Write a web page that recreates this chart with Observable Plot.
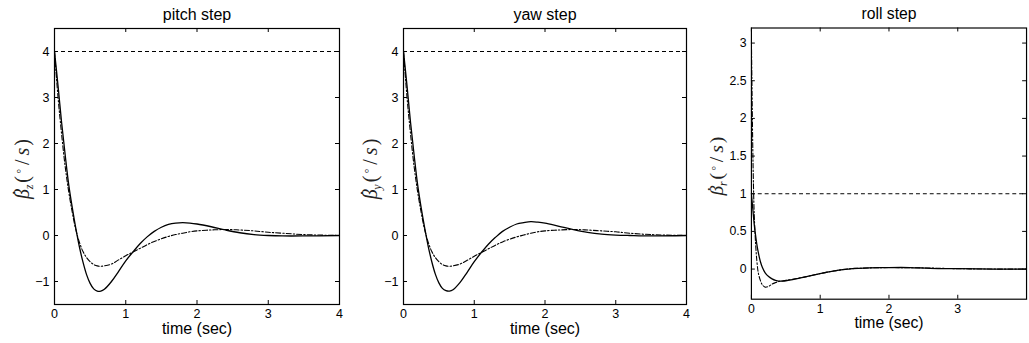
<!DOCTYPE html>
<html><head><meta charset="utf-8">
<script src="https://cdn.jsdelivr.net/npm/d3@7"></script>
<script src="https://cdn.jsdelivr.net/npm/@observablehq/plot@0.6"></script>
<style>
html,body{margin:0;padding:0;background:#fff;overflow:hidden;width:1029px;height:343px;}
#wrap{position:relative;width:1029px;height:343px;overflow:hidden;}
.panel{position:absolute;top:0;}
</style></head><body><div id="wrap"></div>
<script>
// ---- text ----
const titles = ["pitch step", "yaw step", "roll step"];
const subs = ["z", "y", "r"];
const xLabel = "time (sec)";

// ---- ticks ----
const xTicksFull = [0, 1, 2, 3, 4];
const xTicksRoll = [0, 1, 2, 3];
const yTicksPY = [-1, 0, 1, 2, 3, 4];
const yTicksRoll = [0, 0.5, 1, 1.5, 2, 2.5, 3];

// ---- commands (dashed) ----
const commandPitch = 4;
const commandYaw = 4;
const commandRoll = 1;

// ---- pitch / yaw time grid ----
const tPY = [0,0.05,0.1,0.15,0.2,0.25,0.3,0.35,0.4,0.45,0.5,0.55,0.6,0.65,0.7,0.8,0.9,1.0,1.1,1.2,1.3,1.4,1.5,1.6,1.7,1.8,1.9,2.0,2.2,2.4,2.6,2.8,3.0,3.2,3.5,4.0];

const pitchActual = [4.0,3.25,2.45,1.75,1.1,0.6,0.15,-0.25,-0.58,-0.85,-1.04,-1.16,-1.21,-1.21,-1.17,-1.0,-0.78,-0.55,-0.36,-0.18,-0.03,0.09,0.18,0.24,0.27,0.28,0.27,0.25,0.19,0.12,0.06,0.02,0.0,-0.01,-0.01,0.0];
const pitchModel  = [4.0,3.0,2.2,1.5,0.95,0.5,0.12,-0.15,-0.35,-0.48,-0.57,-0.63,-0.66,-0.67,-0.66,-0.62,-0.53,-0.44,-0.36,-0.28,-0.2,-0.13,-0.07,-0.02,0.02,0.05,0.08,0.1,0.12,0.13,0.12,0.1,0.07,0.05,0.02,0.0];

const yawActual = [4.0,3.25,2.45,1.75,1.1,0.6,0.16,-0.24,-0.57,-0.84,-1.03,-1.15,-1.2,-1.21,-1.18,-1.02,-0.8,-0.57,-0.37,-0.19,-0.04,0.09,0.18,0.25,0.28,0.3,0.29,0.27,0.2,0.13,0.07,0.03,0.01,0.0,-0.01,0.0];
const yawModel  = [4.0,3.0,2.2,1.5,0.95,0.5,0.12,-0.15,-0.35,-0.48,-0.57,-0.63,-0.66,-0.67,-0.66,-0.62,-0.54,-0.45,-0.37,-0.29,-0.21,-0.14,-0.08,-0.03,0.01,0.05,0.08,0.1,0.12,0.13,0.12,0.1,0.08,0.05,0.02,0.0];

// ---- roll ----
const tRollActual = [0,0.02,0.04,0.06,0.08,0.1,0.13,0.16,0.2,0.25,0.3,0.35,0.4,0.45,0.5,0.6,0.7,0.8,0.9,1.0,1.1,1.2,1.3,1.4,1.5,1.7,2.0,2.3,2.6,3.0,3.5,4.0];
const rollActual  = [1.0,0.8,0.6,0.45,0.32,0.22,0.1,0.02,-0.05,-0.1,-0.13,-0.15,-0.16,-0.16,-0.155,-0.14,-0.12,-0.1,-0.08,-0.06,-0.04,-0.025,-0.01,0.0,0.01,0.015,0.02,0.02,0.01,0.005,0.0,0.0];
const tRollModel = [0,0.01,0.02,0.03,0.04,0.06,0.08,0.1,0.13,0.16,0.2,0.25,0.3,0.35,0.4,0.5,0.6,0.8,1.0,1.2,1.4,1.7,2.0,2.5,3.0,3.5,4.0];
const rollModel  = [3.05,2.3,1.6,1.1,0.75,0.35,0.1,-0.05,-0.15,-0.21,-0.24,-0.23,-0.2,-0.18,-0.165,-0.15,-0.135,-0.1,-0.06,-0.025,0.0,0.015,0.02,0.015,0.005,0.0,0.0];

const fmt = d => d < 0 ? "\u2212" + Math.abs(d) : String(d);

function panel(o) {
  const H = 343, mT = 28, mB = 39;
  const innerH = H - mT - mB, innerW = o.width - o.mL - o.mR;
  const actual = o.tA.map((t, i) => ({t, v: o.a[i]}));
  const model = o.tM.map((t, i) => ({t, v: o.m[i]}));
  const tl = 4;
  const svg = Plot.plot({
    width: o.width, height: H,
    marginTop: mT, marginBottom: mB, marginLeft: o.mL, marginRight: o.mR,
    style: {fontFamily: "'Liberation Sans', Arial, sans-serif", fontSize: "12px", background: "white", color: "black", overflow: "visible"},
    x: {domain: [0, 4], label: null},
    y: {domain: o.yDomain, label: null},
    marks: [
      Plot.ruleY([o.cmd], {stroke: "black", strokeWidth: 1, strokeDasharray: "4,3"}),
      Plot.line(model, {x: "t", y: "v", stroke: "black", strokeWidth: 1.1, strokeDasharray: "5,2,1.5,2", curve: "catmull-rom", clip: true}),
      Plot.line(actual, {x: "t", y: "v", stroke: "black", strokeWidth: 1.3, curve: "catmull-rom", clip: true}),
      Plot.frame({stroke: "black", strokeWidth: 1.2}),
      Plot.tickX(o.xTicks, {x: d => d, insetTop: innerH - tl, stroke: "black"}),
      Plot.tickX(o.xTicks, {x: d => d, insetBottom: innerH - tl, stroke: "black"}),
      Plot.tickY(o.yTicks, {y: d => d, insetRight: innerW - tl, stroke: "black"}),
      Plot.tickY(o.yTicks, {y: d => d, insetLeft: innerW - tl, stroke: "black"}),
      Plot.axisX({ticks: o.xTicks, tickSize: 0, tickPadding: 5, tickFormat: fmt, fontSize: 12.5}),
      Plot.axisY({ticks: o.yTicks, tickSize: 0, tickPadding: 5, tickFormat: fmt, fontSize: 12.5}),
      Plot.text([o.title], {frameAnchor: "top", lineAnchor: "middle", dy: -14, fontSize: 16, fill: "black"}),
      Plot.text([xLabel], {frameAnchor: "bottom", lineAnchor: "middle", dy: 24, fontSize: 16, fill: "black"})
    ]
  });
  // y-axis label (math style)
  const s = d3.select(svg);
  const txt = s.append("text")
    .attr("transform", `translate(${o.lx},169) rotate(-90)`)
    .attr("text-anchor", "middle")
    .attr("font-family", "'Liberation Serif', 'DejaVu Serif', serif")
    .attr("font-size", 20)
    .attr("fill", "#222");
  txt.append("tspan").attr("font-style", "italic").text("\u03B2");
  txt.append("tspan").attr("dx", -7).attr("dy", -2).text("\u02D9");
  txt.append("tspan").attr("font-style", "italic").attr("font-size", 12).attr("dx", 0).attr("dy", 6).text(o.sub);
  txt.append("tspan").attr("dy", -4).attr("dx", 2).text("(");
  txt.append("tspan").attr("font-size", 14).attr("dy", -6).attr("dx", 2).text("\u25E6");
  txt.append("tspan").attr("dy", 6).attr("dx", 4).text("/");
  txt.append("tspan").attr("font-style", "italic").attr("dx", 4).text("s");
  txt.append("tspan").attr("dx", 2).text(")");
  const div = document.createElement("div");
  div.className = "panel";
  div.style.left = o.left + "px";
  div.appendChild(svg);
  document.getElementById("wrap").appendChild(div);
}

panel({left: 0, width: 345, mL: 54, mR: 6, yDomain: [-1.5, 4.5], yTicks: yTicksPY, xTicks: xTicksFull,
  cmd: commandPitch, tA: tPY, a: pitchActual, tM: tPY, m: pitchModel, title: titles[0], sub: subs[0], lx: 29});
panel({left: 345, width: 345, mL: 58, mR: 4, yDomain: [-1.5, 4.5], yTicks: yTicksPY, xTicks: xTicksFull,
  cmd: commandYaw, tA: tPY, a: yawActual, tM: tPY, m: yawModel, title: titles[1], sub: subs[1], lx: 32});
panel({left: 690, width: 345, mL: 62, mR: 3, yDomain: [-0.4, 3.2], yTicks: yTicksRoll, xTicks: xTicksRoll,
  cmd: commandRoll, tA: tRollActual, a: rollActual, tM: tRollModel, m: rollModel, title: titles[2], sub: subs[2], lx: 34});
</script>
</body></html>
